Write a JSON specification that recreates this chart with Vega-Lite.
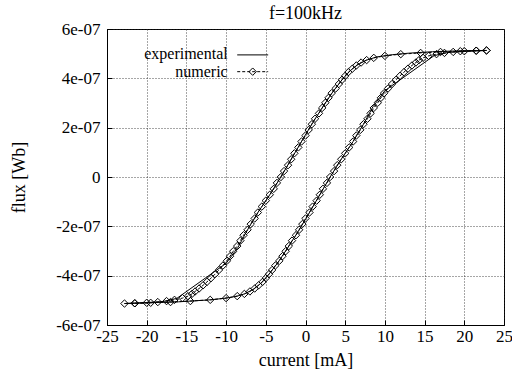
{
  "$schema": "https://vega.github.io/schema/vega-lite/v6.json",
  "width": 397,
  "height": 296,
  "autosize": {"type": "none"},
  "padding": {"left": 107, "top": 29, "right": 8, "bottom": 46},
  "background": "white",
  "title": {"text": "f=100kHz", "font": "Liberation Serif", "fontSize": 18, "fontWeight": "normal", "color": "black", "offset": 11, "dy": 14, "frame": "group"},
  "config": {
    "font": "Liberation Serif",
    "view": {"stroke": "black", "strokeWidth": 1},
    "axis": {
      "grid": true, "gridDash": [1, 2], "gridColor": "#222", "gridOpacity": 0.8,
      "ticks": true, "tickSize": -5, "tickColor": "black", "domainColor": "black",
      "labelFont": "Liberation Serif", "labelFontSize": 17, "labelColor": "black", "labelFlush": false,
      "titleFont": "Liberation Serif", "titleFontSize": 18, "titleFontWeight": "normal", "titleColor": "black"
    }
  },
  "datasets": {
    "numeric": [
      {"s":1,"I":22.8,"flux":5.13e-7},{"s":2,"I":21.5,"flux":5.12e-7},{"s":3,"I":19.5,"flux":5.10e-7},{"s":4,"I":17.0,"flux":5.07e-7},{"s":5,"I":14.5,"flux":5.03e-7},
      {"s":6,"I":12.0,"flux":4.98e-7},{"s":7,"I":10.0,"flux":4.91e-7},{"s":8,"I":8.6,"flux":4.83e-7},{"s":9,"I":7.7,"flux":4.74e-7},{"s":10,"I":7.0,"flux":4.64e-7},
      {"s":11,"I":6.4,"flux":4.52e-7},{"s":12,"I":5.9,"flux":4.39e-7},{"s":13,"I":5.4,"flux":4.25e-7},{"s":14,"I":5.0,"flux":4.10e-7},{"s":15,"I":4.6,"flux":3.94e-7},
      {"s":16,"I":4.2,"flux":3.77e-7},{"s":17,"I":3.8,"flux":3.59e-7},{"s":18,"I":3.3,"flux":3.40e-7},{"s":19,"I":2.9,"flux":3.21e-7},{"s":20,"I":2.5,"flux":3.01e-7},
      {"s":21,"I":2.1,"flux":2.80e-7},{"s":22,"I":1.7,"flux":2.58e-7},{"s":23,"I":1.2,"flux":2.36e-7},{"s":24,"I":0.8,"flux":2.14e-7},{"s":25,"I":0.4,"flux":1.91e-7},
      {"s":26,"I":0.0,"flux":1.68e-7},{"s":27,"I":-0.5,"flux":1.44e-7},{"s":28,"I":-0.9,"flux":1.20e-7},{"s":29,"I":-1.4,"flux":0.96e-7},{"s":30,"I":-1.8,"flux":0.72e-7},
      {"s":31,"I":-2.2,"flux":0.48e-7},{"s":32,"I":-2.7,"flux":0.24e-7},{"s":33,"I":-3.1,"flux":0.0},{"s":34,"I":-3.6,"flux":-0.24e-7},{"s":35,"I":-4.0,"flux":-0.48e-7},
      {"s":36,"I":-4.5,"flux":-0.72e-7},{"s":37,"I":-5.0,"flux":-0.96e-7},{"s":38,"I":-5.5,"flux":-1.20e-7},{"s":39,"I":-6.0,"flux":-1.44e-7},{"s":40,"I":-6.4,"flux":-1.68e-7},
      {"s":41,"I":-6.9,"flux":-1.91e-7},{"s":42,"I":-7.3,"flux":-2.14e-7},{"s":43,"I":-7.8,"flux":-2.36e-7},{"s":44,"I":-8.2,"flux":-2.58e-7},{"s":45,"I":-8.6,"flux":-2.80e-7},
      {"s":46,"I":-9.1,"flux":-3.01e-7},{"s":47,"I":-9.5,"flux":-3.21e-7},{"s":48,"I":-9.9,"flux":-3.40e-7},{"s":49,"I":-10.4,"flux":-3.59e-7},{"s":50,"I":-10.9,"flux":-3.77e-7},
      {"s":51,"I":-11.4,"flux":-3.94e-7},{"s":52,"I":-11.9,"flux":-4.10e-7},{"s":53,"I":-12.4,"flux":-4.25e-7},{"s":54,"I":-12.9,"flux":-4.39e-7},{"s":55,"I":-13.4,"flux":-4.52e-7},
      {"s":56,"I":-13.9,"flux":-4.64e-7},{"s":57,"I":-14.3,"flux":-4.74e-7},{"s":58,"I":-14.8,"flux":-4.83e-7},{"s":59,"I":-15.5,"flux":-4.91e-7},{"s":60,"I":-16.5,"flux":-4.98e-7},
      {"s":61,"I":-17.5,"flux":-5.03e-7},{"s":62,"I":-18.6,"flux":-5.07e-7},{"s":63,"I":-20.0,"flux":-5.10e-7},{"s":64,"I":-21.5,"flux":-5.12e-7},{"s":65,"I":-22.8,"flux":-5.13e-7},
      {"s":66,"I":-21.5,"flux":-5.12e-7},{"s":67,"I":-19.5,"flux":-5.10e-7},{"s":68,"I":-17.0,"flux":-5.07e-7},{"s":69,"I":-14.5,"flux":-5.03e-7},{"s":70,"I":-12.0,"flux":-4.98e-7},
      {"s":71,"I":-10.0,"flux":-4.91e-7},{"s":72,"I":-8.6,"flux":-4.83e-7},{"s":73,"I":-7.7,"flux":-4.74e-7},{"s":74,"I":-7.0,"flux":-4.64e-7},{"s":75,"I":-6.4,"flux":-4.52e-7},
      {"s":76,"I":-5.9,"flux":-4.39e-7},{"s":77,"I":-5.4,"flux":-4.25e-7},{"s":78,"I":-5.0,"flux":-4.10e-7},{"s":79,"I":-4.6,"flux":-3.94e-7},{"s":80,"I":-4.2,"flux":-3.77e-7},
      {"s":81,"I":-3.8,"flux":-3.59e-7},{"s":82,"I":-3.3,"flux":-3.40e-7},{"s":83,"I":-2.9,"flux":-3.21e-7},{"s":84,"I":-2.5,"flux":-3.01e-7},{"s":85,"I":-2.1,"flux":-2.80e-7},
      {"s":86,"I":-1.7,"flux":-2.58e-7},{"s":87,"I":-1.2,"flux":-2.36e-7},{"s":88,"I":-0.8,"flux":-2.14e-7},{"s":89,"I":-0.4,"flux":-1.91e-7},{"s":90,"I":0.0,"flux":-1.68e-7},
      {"s":91,"I":0.5,"flux":-1.44e-7},{"s":92,"I":0.9,"flux":-1.20e-7},{"s":93,"I":1.4,"flux":-0.96e-7},{"s":94,"I":1.8,"flux":-0.72e-7},{"s":95,"I":2.2,"flux":-0.48e-7},
      {"s":96,"I":2.7,"flux":-0.24e-7},{"s":97,"I":3.1,"flux":0.0},{"s":98,"I":3.6,"flux":0.24e-7},{"s":99,"I":4.0,"flux":0.48e-7},{"s":100,"I":4.5,"flux":0.72e-7},
      {"s":101,"I":5.0,"flux":0.96e-7},{"s":102,"I":5.5,"flux":1.20e-7},{"s":103,"I":6.0,"flux":1.44e-7},{"s":104,"I":6.4,"flux":1.68e-7},{"s":105,"I":6.9,"flux":1.91e-7},
      {"s":106,"I":7.3,"flux":2.14e-7},{"s":107,"I":7.8,"flux":2.36e-7},{"s":108,"I":8.2,"flux":2.58e-7},{"s":109,"I":8.6,"flux":2.80e-7},{"s":110,"I":9.1,"flux":3.01e-7},
      {"s":111,"I":9.5,"flux":3.21e-7},{"s":112,"I":9.9,"flux":3.40e-7},{"s":113,"I":10.4,"flux":3.59e-7},{"s":114,"I":10.9,"flux":3.77e-7},{"s":115,"I":11.4,"flux":3.94e-7},
      {"s":116,"I":11.9,"flux":4.10e-7},{"s":117,"I":12.4,"flux":4.25e-7},{"s":118,"I":12.9,"flux":4.39e-7},{"s":119,"I":13.4,"flux":4.52e-7},{"s":120,"I":13.9,"flux":4.64e-7},
      {"s":121,"I":14.3,"flux":4.74e-7},{"s":122,"I":14.8,"flux":4.83e-7},{"s":123,"I":15.5,"flux":4.91e-7},{"s":124,"I":16.5,"flux":4.98e-7},{"s":125,"I":17.5,"flux":5.03e-7},
      {"s":126,"I":18.6,"flux":5.07e-7},{"s":127,"I":20.0,"flux":5.10e-7},{"s":128,"I":21.5,"flux":5.12e-7},{"s":129,"I":22.8,"flux":5.13e-7}
    ],
    "experimental": [
      {"s":1,"I":22.8,"flux":5.13e-7},{"s":2,"I":20.0,"flux":5.12e-7},{"s":3,"I":16.0,"flux":5.08e-7},{"s":4,"I":13.0,"flux":5.02e-7},{"s":5,"I":11.0,"flux":4.96e-7},
      {"s":6,"I":9.0,"flux":4.87e-7},{"s":7,"I":7.7,"flux":4.74e-7},{"s":8,"I":6.6,"flux":4.56e-7},{"s":9,"I":5.6,"flux":4.30e-7},{"s":10,"I":4.6,"flux":3.94e-7},
      {"s":11,"I":3.5,"flux":3.48e-7},{"s":12,"I":2.3,"flux":2.90e-7},{"s":13,"I":0.9,"flux":2.20e-7},{"s":14,"I":-0.5,"flux":1.44e-7},{"s":15,"I":-1.8,"flux":0.72e-7},
      {"s":16,"I":-3.1,"flux":0.0},{"s":17,"I":-4.5,"flux":-0.72e-7},{"s":18,"I":-6.0,"flux":-1.44e-7},{"s":19,"I":-7.3,"flux":-2.14e-7},{"s":20,"I":-8.5,"flux":-2.85e-7},
      {"s":21,"I":-10.0,"flux":-3.50e-7},{"s":22,"I":-16.2,"flux":-4.92e-7},{"s":23,"I":-18.0,"flux":-5.05e-7},{"s":24,"I":-20.0,"flux":-5.09e-7},{"s":25,"I":-22.8,"flux":-5.13e-7},
      {"s":26,"I":-20.0,"flux":-5.10e-7},{"s":27,"I":-16.0,"flux":-5.06e-7},{"s":28,"I":-12.0,"flux":-4.98e-7},{"s":29,"I":-10.0,"flux":-4.91e-7},{"s":30,"I":-8.6,"flux":-4.83e-7},
      {"s":31,"I":-7.7,"flux":-4.74e-7},{"s":32,"I":-6.6,"flux":-4.56e-7},{"s":33,"I":-5.6,"flux":-4.30e-7},{"s":34,"I":-4.6,"flux":-3.94e-7},{"s":35,"I":-3.5,"flux":-3.48e-7},
      {"s":36,"I":-2.3,"flux":-2.90e-7},{"s":37,"I":-0.9,"flux":-2.20e-7},{"s":38,"I":0.5,"flux":-1.44e-7},{"s":39,"I":1.8,"flux":-0.72e-7},{"s":40,"I":3.1,"flux":0.0},
      {"s":41,"I":4.5,"flux":0.72e-7},{"s":42,"I":6.0,"flux":1.44e-7},{"s":43,"I":7.3,"flux":2.14e-7},{"s":44,"I":8.5,"flux":2.85e-7},{"s":45,"I":10.0,"flux":3.50e-7},
      {"s":46,"I":16.2,"flux":4.92e-7},{"s":47,"I":18.0,"flux":5.05e-7},{"s":48,"I":20.0,"flux":5.09e-7},{"s":49,"I":22.8,"flux":5.13e-7}
    ],
    "key": [{"series": "experimental"}]
  },
  "encoding": {
    "x": {"type": "quantitative", "scale": {"domain": [-25, 25], "nice": false},
      "axis": {"title": "current [mA]", "values": [-25, -20, -15, -10, -5, 0, 5, 10, 15, 20, 25], "labelExpr": "'' + datum.value", "labelFont": "Liberation Serif", "labelFontSize": 17, "labelPadding": 8, "titleY": 40, "titleBaseline": "alphabetic"}},
    "y": {"type": "quantitative", "scale": {"domain": [-6e-7, 6e-7], "nice": false},
      "axis": {"title": "flux [Wb]", "values": [-6e-7, -4e-7, -2e-7, 0, 2e-7, 4e-7, 6e-7], "labelExpr": "datum.value == 0 ? '0' : ('' + round(datum.value * 1e7)) + 'e-07'", "labelFont": "Liberation Serif", "labelFontSize": 17, "labelPadding": 12, "titleX": -88, "titleY": 148, "titleAngle": 270, "titleAlign": "center", "titleBaseline": "middle"}}
  },
  "layer": [
    {
      "data": {"name": "experimental"},
      "mark": {"type": "line", "color": "black", "strokeWidth": 1, "interpolate": "linear"},
      "encoding": {"x": {"field": "I", "type": "quantitative"}, "y": {"field": "flux", "type": "quantitative"}, "order": {"field": "s"}}
    },
    {
      "data": {"name": "numeric"},
      "mark": {"type": "line", "color": "black", "strokeWidth": 1, "strokeDash": [3, 2]},
      "encoding": {"x": {"field": "I", "type": "quantitative"}, "y": {"field": "flux", "type": "quantitative"}, "order": {"field": "s"}}
    },
    {
      "data": {"name": "numeric"},
      "mark": {"type": "point", "shape": "diamond", "size": 55, "filled": false, "color": "black", "strokeWidth": 1, "opacity": 1},
      "encoding": {"x": {"field": "I", "type": "quantitative"}, "y": {"field": "flux", "type": "quantitative"}}
    },
    {
      "data": {"name": "key"},
      "mark": {"type": "text", "align": "right", "baseline": "middle", "font": "Liberation Serif", "fontSize": 16, "color": "black", "text": "experimental"},
      "encoding": {"x": {"datum": -9.8}, "y": {"datum": 4.97e-7}}
    },
    {
      "data": {"name": "key"},
      "mark": {"type": "rule", "color": "black", "strokeWidth": 1},
      "encoding": {"x": {"datum": -8.6}, "x2": {"datum": -4.7}, "y": {"datum": 4.95e-7}}
    },
    {
      "data": {"name": "key"},
      "mark": {"type": "text", "align": "right", "baseline": "middle", "font": "Liberation Serif", "fontSize": 16, "color": "black", "text": "numeric"},
      "encoding": {"x": {"datum": -9.8}, "y": {"datum": 4.27e-7}}
    },
    {
      "data": {"name": "key"},
      "mark": {"type": "rule", "color": "black", "strokeWidth": 1, "strokeDash": [3, 2]},
      "encoding": {"x": {"datum": -8.6}, "x2": {"datum": -4.7}, "y": {"datum": 4.27e-7}}
    },
    {
      "data": {"name": "key"},
      "mark": {"type": "point", "shape": "diamond", "size": 55, "filled": false, "color": "black", "strokeWidth": 1, "opacity": 1},
      "encoding": {"x": {"datum": -6.65}, "y": {"datum": 4.27e-7}}
    }
  ]
}
